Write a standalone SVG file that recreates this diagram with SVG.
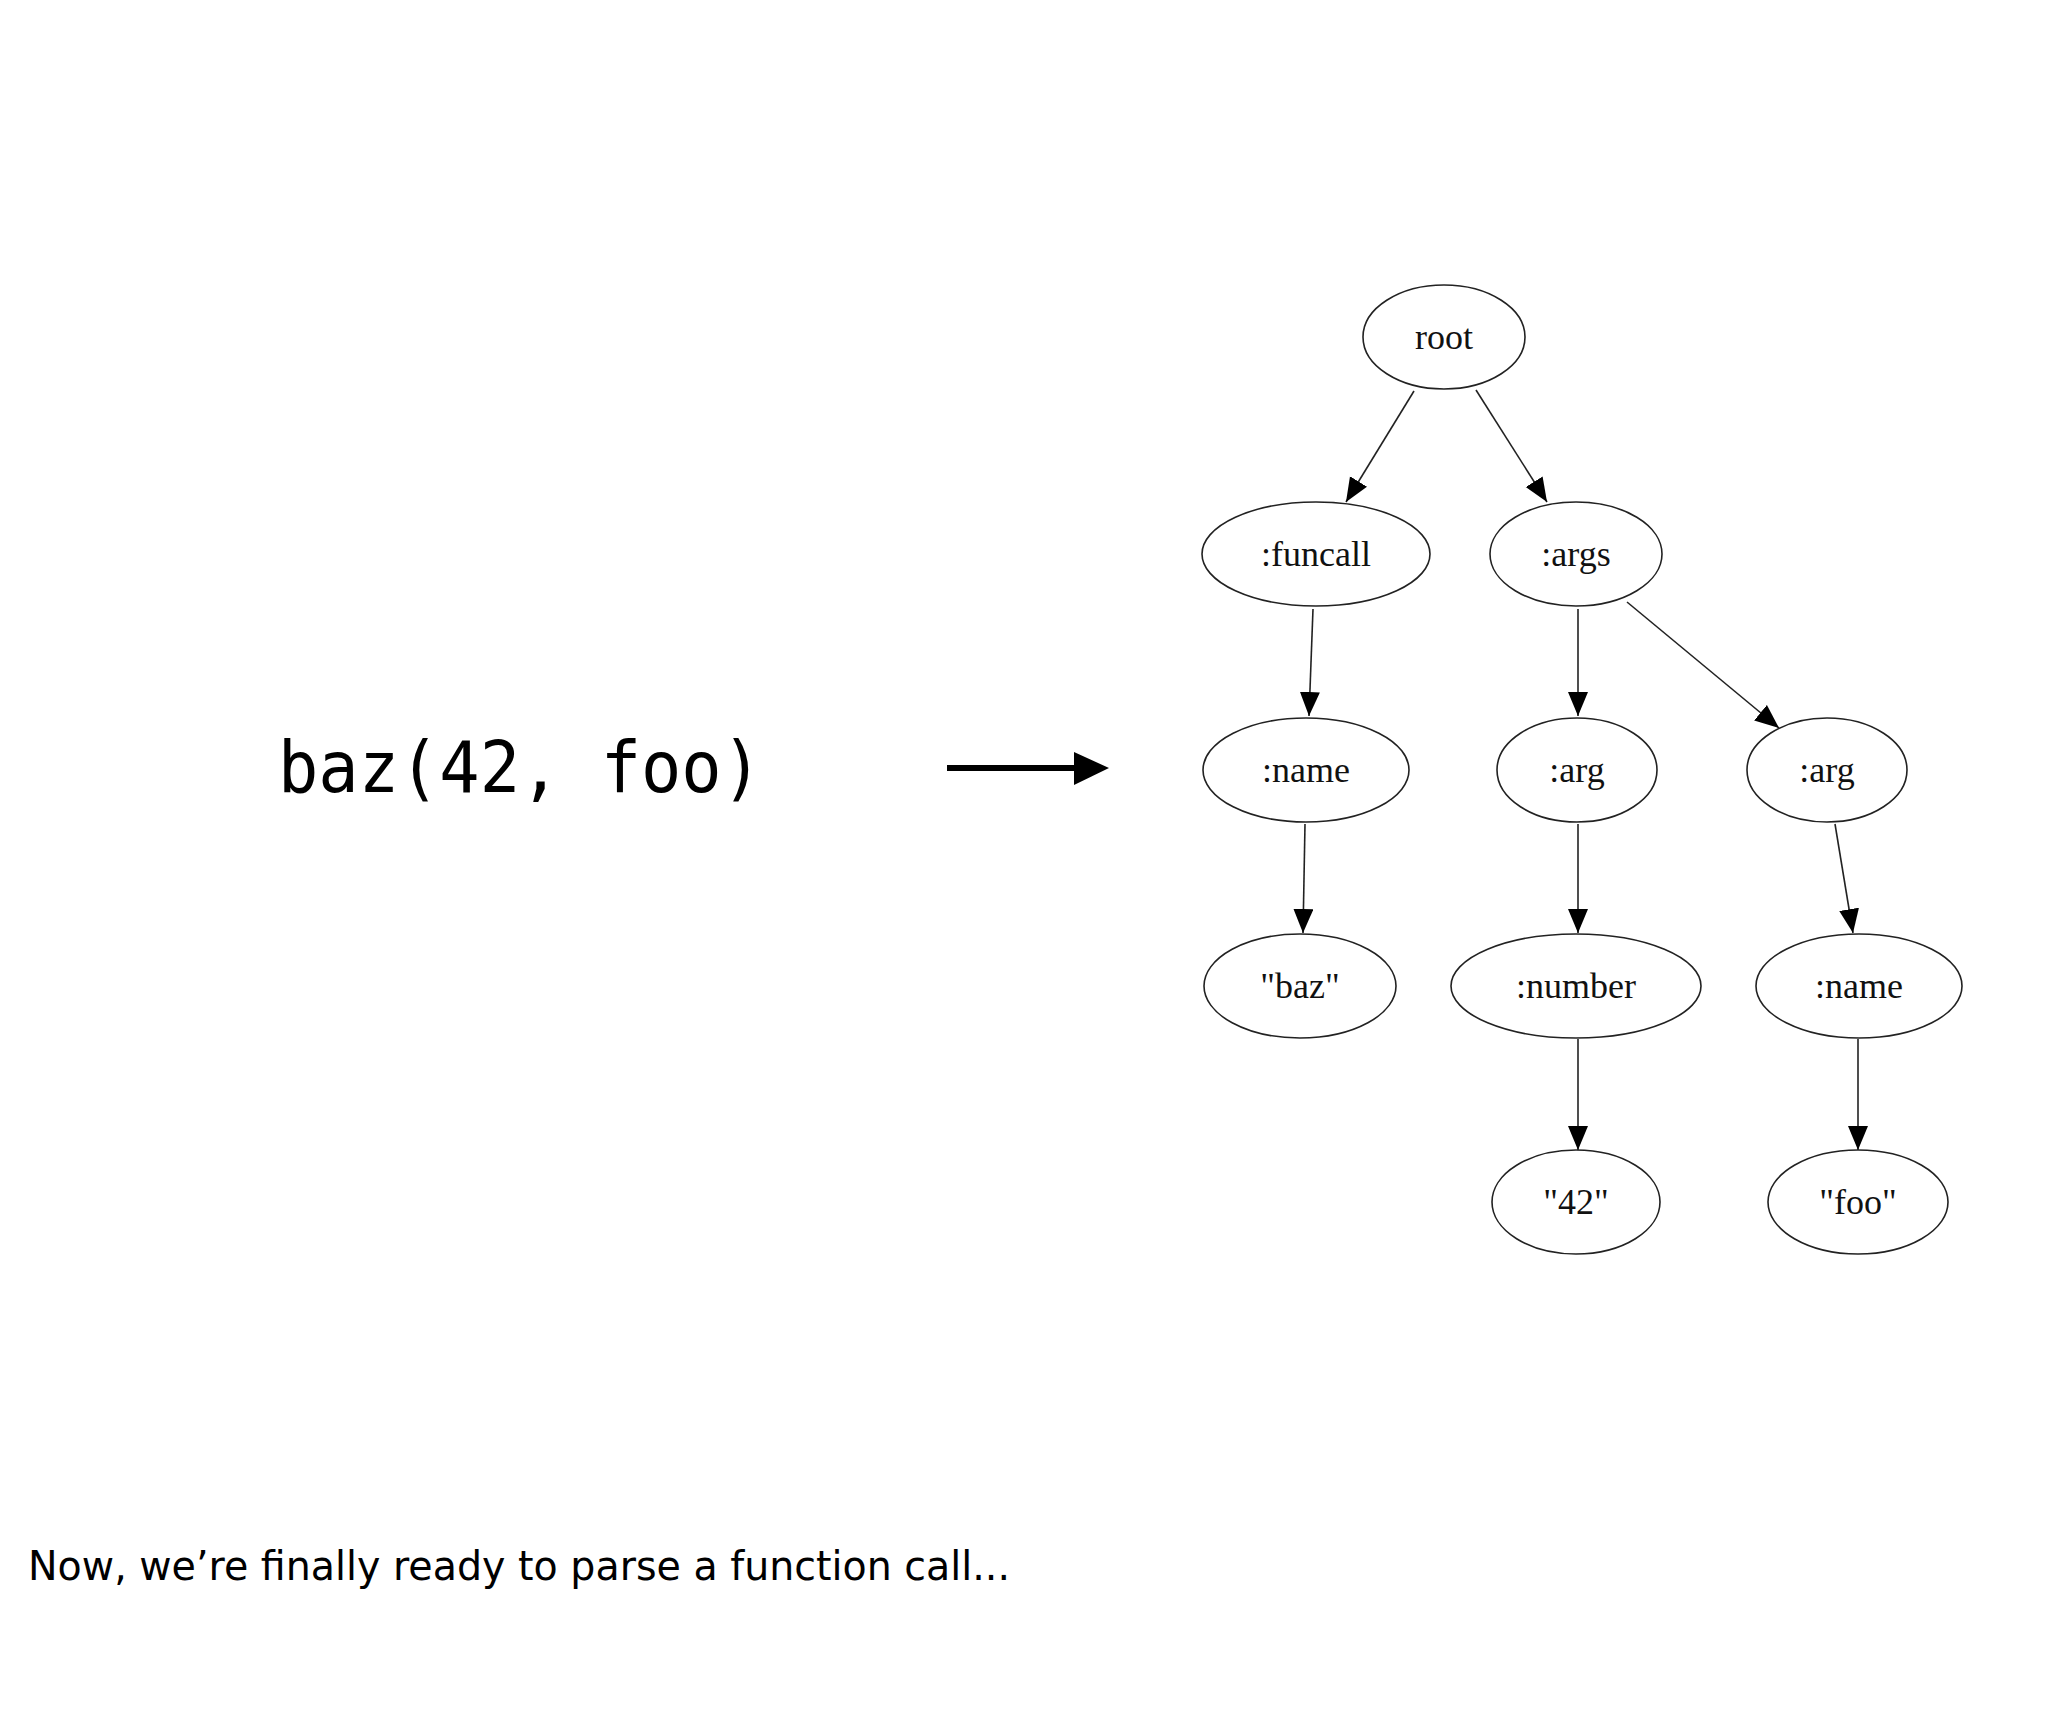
<svg xmlns="http://www.w3.org/2000/svg" width="2048" height="1720" viewBox="0 0 2048 1720">
<style>
.n ellipse{fill:#fff;stroke:#222;stroke-width:1.6}
.n text{font-family:"Liberation Serif",serif;font-size:36px;text-anchor:middle;fill:#111}
.e line{stroke:#222;stroke-width:1.6;marker-end:url(#ah)}
</style>
<defs>
<marker id="ah" markerUnits="userSpaceOnUse" markerWidth="26" markerHeight="22" refX="24" refY="10" orient="auto"><path d="M0,0 L24,10 L0,20 Z" fill="#000"/></marker>
</defs>
<rect width="2048" height="1720" fill="#fff"/>
<text x="278" y="792" font-family="DejaVu Sans Mono,monospace" font-size="72" textLength="484" lengthAdjust="spacingAndGlyphs" fill="#000">baz(42, foo)</text>
<g id="bigarrow"><line x1="947" y1="768" x2="1078" y2="768" stroke="#000" stroke-width="6"/><path d="M1074,752 L1109,768 L1074,785 Z" fill="#000"/></g>
<g class="e" id="edges">
<line x1="1414" y1="391" x2="1346" y2="502"/>
<line x1="1476" y1="390" x2="1547" y2="502"/>
<line x1="1313" y1="609" x2="1309" y2="716"/>
<line x1="1578" y1="609" x2="1578" y2="716"/>
<line x1="1627" y1="602" x2="1779" y2="728"/>
<line x1="1305" y1="824" x2="1303" y2="933"/>
<line x1="1578" y1="824" x2="1578" y2="933"/>
<line x1="1835" y1="824" x2="1853" y2="933"/>
<line x1="1578" y1="1039" x2="1578" y2="1150"/>
<line x1="1858" y1="1039" x2="1858" y2="1150"/>
</g>
<g class="n" id="root"><ellipse cx="1444" cy="337" rx="81" ry="52"/><text x="1444" y="349">root</text></g>
<g class="n" id="funcall"><ellipse cx="1316" cy="554" rx="114" ry="52"/><text x="1316" y="566">:funcall</text></g>
<g class="n" id="args"><ellipse cx="1576" cy="554" rx="86" ry="52"/><text x="1576" y="566">:args</text></g>
<g class="n" id="name1"><ellipse cx="1306" cy="770" rx="103" ry="52"/><text x="1306" y="782">:name</text></g>
<g class="n" id="arg1"><ellipse cx="1577" cy="770" rx="80" ry="52"/><text x="1577" y="782">:arg</text></g>
<g class="n" id="arg2"><ellipse cx="1827" cy="770" rx="80" ry="52"/><text x="1827" y="782">:arg</text></g>
<g class="n" id="baz"><ellipse cx="1300" cy="986" rx="96" ry="52"/><text x="1300" y="998">"baz"</text></g>
<g class="n" id="number"><ellipse cx="1576" cy="986" rx="125" ry="52"/><text x="1576" y="998">:number</text></g>
<g class="n" id="name2"><ellipse cx="1859" cy="986" rx="103" ry="52"/><text x="1859" y="998">:name</text></g>
<g class="n" id="n42"><ellipse cx="1576" cy="1202" rx="84" ry="52"/><text x="1576" y="1214">"42"</text></g>
<g class="n" id="foo"><ellipse cx="1858" cy="1202" rx="90" ry="52"/><text x="1858" y="1214">"foo"</text></g>
<text x="28" y="1580" font-family="DejaVu Sans,sans-serif" font-size="40" textLength="982" lengthAdjust="spacingAndGlyphs" fill="#000">Now, we’re finally ready to parse a function call...</text>
</svg>
